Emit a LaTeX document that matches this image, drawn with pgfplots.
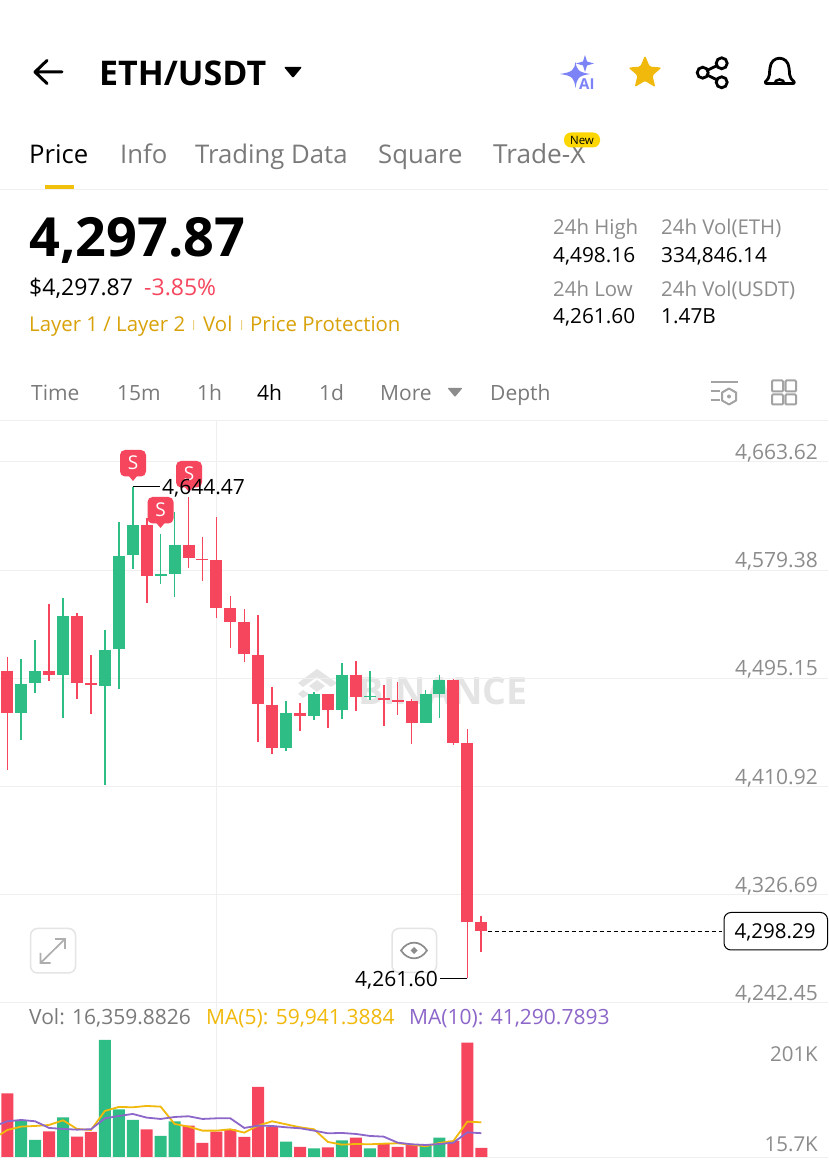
\documentclass[border=0pt]{standalone}
\usepackage{fontspec}
\setmainfont{Open Sans}
\usepackage{pgfplots}
\pgfplotsset{compat=1.18}
\usetikzlibrary{shapes.geometric}
\definecolor{upc}{HTML}{2EBD85}
\definecolor{dnc}{HTML}{F6465D}
\definecolor{ylw}{HTML}{F0B90B}
\definecolor{ppl}{HTML}{8D66C9}
\definecolor{gold}{HTML}{D9A20A}
\definecolor{gtx}{HTML}{7A7A7A}
\definecolor{ltx}{HTML}{8C8C8C}
\definecolor{grd}{HTML}{EFEFEF}
\definecolor{wm}{HTML}{E4E4E4}
\definecolor{spk}{HTML}{7C83F7}
\newcommand\T[6][base west]{\node[anchor=#1,inner sep=0pt,text=#5,font=\fontsize{#4}{#4}\selectfont] at (#2,#3) {#6};}
\pgfplotsset{screen/.style={
  scale only axis, width=828pt, xmin=-0.524, xmax=58.87,
  axis line style={draw=none}, tick style={draw=none}, clip=true,
  xtick={15}, xticklabels={}, xmajorgrids, ymajorgrids,
  grid style={line width=1pt,color=grd}, enlargelimits=false}}
\begin{document}
\begin{tikzpicture}[x=1pt,y=1pt]
\useasboundingbox (0,0) rectangle (828,1162);
\fill[white] (0,0) rectangle (828,1162);
% watermark
\begin{scope}[shift={(0pt,1162pt)},y=-1pt]
\fill[wm] (317,669) -- (337,683) -- (331,687) -- (317,677) -- (303,687) -- (298,683) -- cycle;
\fill[wm] (317,680) -- (325,686) -- (317,692) -- (309,686) -- cycle;
\fill[wm] (303,690) -- (309,694) -- (303,698) -- (298,694) -- cycle;
\node[anchor=base west,inner sep=0pt,text=wm,font=\fontsize{37.5}{37.5}\selectfont\bfseries] at (358,705) {BINANCE};
\end{scope}
% candles
\begin{axis}[screen, at={(0pt,159pt)}, anchor=south west, height=582pt,
  ymin=4242.45, ymax=4695.51,
  ytick={4242.45,4326.69,4410.92,4495.15,4579.38,4663.62},
  yticklabels={4{,}242.45,4{,}326.69,4{,}410.92,4{,}495.15,4{,}579.38,4{,}663.62},
  yticklabel pos=right,
  yticklabel style={anchor=south east,inner sep=0pt,xshift=-10pt,yshift=-0.5pt,text=ltx,font=\fontsize{21}{21}\selectfont},
  unbounded coords=jump]
% red wicks
\addplot[dnc,line width=1.6pt] coordinates {
(0,4512.05)(0,4423.83)(0,nan)
(3,4553.05)(3,4493.37)(3,nan)
(5,4545.79)(5,4478.84)(5,nan)
(6,4513.09)(6,4467.42)(6,nan)
(10,4619.74)(10,4554.09)(10,nan)
(13,4636.09)(13,4581.33)(13,nan)
(14,4605.47)(14,4570.70)(14,nan)
(15,4620.52)(15,4542.41)(15,nan)
(16,4559.28)(16,4518.54)(16,nan)
(17,4548.90)(17,4508.16)(17,nan)
(18,4544.23)(18,4445.89)(18,nan)
(19,4488.70)(19,4436.03)(19,nan)
(21,4475.73)(21,4454.45)(21,nan)
(23,4482.99)(23,4456.53)(23,nan)
(25,4508.42)(25,4470.02)(25,nan)
(27,4489.74)(27,4458.08)(27,nan)
(28,4492.34)(28,4466.91)(28,nan)
(29,4479.36)(29,4444.33)(29,nan)
(32,4494.41)(32,4443.03)(32,nan)
(33,4455.49)(33,4261.60)(33,nan)
(34,4310.18)(34,4282.42)
};
% red bodies
\addplot[dnc,line width=12pt] coordinates {
(0,4501.16)(0,4468.46)(0,nan)
(3,4501.16)(3,4497.78)(3,nan)
(5,4543.97)(5,4491.81)(5,nan)
(6,4491.30)(6,4489.74)(6,nan)
(10,4614.29)(10,4574.85)(10,nan)
(13,4599.24)(13,4588.60)(13,nan)
(14,4588.08)(14,4587.04)(14,nan)
(15,4587.30)(15,4550.20)(15,nan)
(16,4549.94)(16,4539.30)(16,nan)
(17,4539.04)(17,4513.87)(17,nan)
(18,4513.61)(18,4475.21)(18,nan)
(19,4474.69)(19,4440.70)(19,nan)
(21,4468.46)(21,4465.61)(21,nan)
(23,4482.99)(23,4470.28)(23,nan)
(25,4498.04)(25,4480.40)(25,nan)
(27,4480.14)(27,4478.58)(27,nan)
(28,4478.32)(28,4476.77)(28,nan)
(29,4477.80)(29,4460.68)(29,nan)
(32,4494.15)(32,4445.11)(32,nan)
(33,4444.85)(33,4305.77)(33,nan)
(34,4305.51)(34,4298.50)
};
% green wicks
\addplot[upc,line width=1.6pt] coordinates {
(1,4509.98)(1,4447.18)(1,nan)
(2,4525.03)(2,4484.03)(2,nan)
(4,4557.46)(4,4464.05)(4,nan)
(7,4532.81)(7,4412.15)(7,nan)
(8,4616.62)(8,4487.14)(8,nan)
(9,4644.47)(9,4580.56)(9,nan)
(11,4607.54)(11,4568.62)(11,nan)
(12,4624.93)(12,4558.76)(12,nan)
(20,4477.80)(20,4438.62)(20,nan)
(22,4484.81)(22,4463.01)(22,nan)
(24,4506.87)(24,4463.53)(24,nan)
(26,4501.16)(26,4478.32)(26,nan)
(30,4486.11)(30,4460.68)(30,nan)
(31,4498.04)(31,4464.57)
};
% green bodies
\addplot[upc,line width=12pt] coordinates {
(1,4490.78)(1,4468.46)(1,nan)
(2,4501.16)(2,4491.30)(2,nan)
(4,4543.97)(4,4497.78)(4,nan)
(7,4517.50)(7,4489.48)(7,nan)
(8,4590.42)(8,4517.76)(8,nan)
(9,4614.29)(9,4590.94)(9,nan)
(11,4576.15)(11,4575.11)(11,nan)
(12,4599.24)(12,4576.40)(12,nan)
(20,4468.46)(20,4440.70)(20,nan)
(22,4482.99)(22,4465.61)(22,nan)
(24,4498.04)(24,4470.28)(24,nan)
(26,4481.44)(26,4480.40)(26,nan)
(30,4482.73)(30,4460.68)(30,nan)
(31,4494.15)(31,4482.99)
};
% high / low leader lines and last-price line
\addplot[black,line width=1pt] coordinates {(9,4644.47)(10.95,4644.47)};
\addplot[black,line width=1pt] coordinates {(33,4261.60)(31.04,4261.60)};
\addplot[black,line width=1pt,dash pattern=on 4pt off 3pt] coordinates {(34.45,4298.29)(51.3,4298.29)};
\end{axis}
% volume
\begin{axis}[screen, at={(0pt,4.7pt)}, anchor=south west, height=154.3pt,
  ymin=0, ymax=264.4, ytick=\empty]
\addplot[ybar,bar width=12pt,bar shift=0pt,fill=dnc,draw=none] coordinates {
(0,109.7)(3,44.6)(5,35.4)(6,43.4)(10,48)(13,54.3)(14,24.6)(15,44)(16,48)(17,34.8)(18,120.5)(19,52.6)
(21,17.7)(23,17.1)(25,33.7)(27,22.8)(28,17.7)(29,22.3)(32,28)(33,196.5)(34,16.36)};
\addplot[ybar,bar width=12pt,bar shift=0pt,fill=upc,draw=none] coordinates {
(1,62.8)(2,29.7)(4,68.5)(7,201)(8,82.3)(9,64)(11,36.6)(12,61.7)(20,26.8)(22,15.4)(24,29.1)(26,15.4)(30,21.1)(31,33.7)};
\addplot[ylw,line width=1.8pt] coordinates {
(-0.52,38.8)(0,46.8)(1,52.6)(2,53.7)(3,55.4)(4,63.4)(5,48.6)(6,46.8)(7,79.4)(8,86.3)(9,85.7)(10,88)(11,86.8)
(12,57.1)(13,52.6)(14,45.7)(15,45.7)(16,48)(17,42.3)(18,54.4)(19,61.7)(20,56.5)(21,51.4)(22,48)(23,26.3)
(24,21.7)(25,22.8)(26,22.3)(27,23.4)(28,24)(29,21.7)(30,18.8)(31,24.6)(32,28)(33,61.1)(34,59.94)};
\addplot[ppl,line width=1.8pt] coordinates {
(-0.52,57.1)(0,61.7)(1,64)(2,61.7)(3,50.3)(4,48.6)(5,47.4)(6,48)(7,66.8)(8,70.8)(9,74.3)(10,68)(11,65.7)
(12,69.1)(13,70.3)(14,65.7)(15,66.8)(16,66.8)(17,50.3)(18,54.3)(19,53.7)(20,51.4)(21,49.7)(22,45.7)(23,41.1)
(24,41.7)(25,40)(26,36.6)(27,35.4)(28,25.1)(29,22.3)(30,21.1)(31,22.8)(32,25.1)(33,42.8)(34,41.29)};
\end{axis}
% overlay, in image pixels from the top
\begin{scope}[shift={(0pt,1162pt)},y=-1pt]
\draw[grd,line width=1pt] (0,189.5)--(828,189.5) (0,421)--(828,421) (0,1157.3)--(828,1157.3);
% header
\draw[black,line width=3pt,line cap=round,line join=round] (62,72)--(35,72) (47,60.5)--(35,72)--(47,83.5);
\node[anchor=base west,inner sep=0pt,font=\fontsize{34}{34}\selectfont\bfseries] at (99,86) {ETH/USDT};
\fill[black,rounded corners=1pt] (284,67)--(302,67)--(293,78)--cycle;
% AI sparkle
\fill[spk] (585,55)--(587,61.5)--(594,63.5)--(587,65.5)--(585,72)--(583,65.5)--(576,63.5)--(583,61.5)--cycle;
\fill[spk] (575.5,62) .. controls (577,70) and (578,72) .. (590,74) .. controls (578,76) and (577,78) .. (575.5,88) .. controls (574,78) and (573,76) .. (560,74) .. controls (573,72) and (574,70) .. (575.5,62) -- cycle;
\T{579}{90}{15}{spk}{\bfseries AI}
% star
\node[star,star points=5,star point ratio=2.2,fill=ylw,inner sep=0pt,minimum size=35pt,rounded corners=1.5pt] at (645,73) {};
% share
\draw[black,line width=2.8pt] (721.7,63.3) circle (5.5) (702.7,72.7) circle (5.5) (721.7,82.3) circle (5.5);
\draw[black,line width=2.8pt] (707.6,70.2)--(716.8,65.7) (707.6,75.2)--(716.8,79.8);
% bell
\draw[black,line width=2.8pt,line join=round] (765.5,81.5) .. controls (771,77) and (769,72) .. (770,68) .. controls (771,55) and (788,55) .. (789,68) .. controls (790,72) and (788,77) .. (794,81.5) .. controls (795,83) and (794,83.5) .. (793,83.5) -- (766.5,83.5) .. controls (765.5,83.5) and (765,83) .. (765.5,81.5) -- cycle;
\draw[black,line width=2.5pt] (774.5,84) arc[start angle=180,end angle=0,radius=5,y radius=-4.5];
% tabs
\T{29}{164}{25.7}{black}{Price}
\T{120}{164}{25.7}{gtx}{Info}
\T{195}{164}{25.7}{gtx}{Trading Data}
\T{378}{164}{25.7}{gtx}{Square}
\T{493}{164}{26.2}{gtx}{Trade-X}
\fill[ylw!90!yellow] (45,185) rectangle (74,189.5);
\fill[yellow!75!orange,rounded corners=7pt] (564,132.5) rectangle (600,147.5);
\T[base]{582}{144.5}{11.5}{black}{New}
% price
\node[anchor=base west,inner sep=0pt,font=\fontsize{54}{54}\selectfont\bfseries] at (29,257) {4,297.87};
\T{29}{296}{23}{black}{\$4,297.87}
\T{144}{296}{23}{dnc}{-3.85\%}
\T{29}{332}{20.4}{gold}{Layer 1 / Layer 2}
\T{203}{332}{20.4}{gold}{Vol}
\T{250}{332}{20.4}{gold}{Price Protection}
\fill[gold!50] (193,320) rectangle (194,330) (241,320) rectangle (242,330);
\T{553}{235}{20.4}{ltx}{24h High}
\T{553}{263}{20.8}{black}{4,498.16}
\T{661}{235}{20.4}{ltx}{24h Vol(ETH)}
\T{661}{263}{20.8}{black}{334,846.14}
\T{553}{297}{20.4}{ltx}{24h Low}
\T{553}{324}{20.8}{black}{4,261.60}
\T{661}{297}{20.4}{ltx}{24h Vol(USDT)}
\T{661}{324}{20.8}{black}{1.47B}
% time row
\T{31}{401}{21}{gtx}{Time}
\T{117}{401}{21}{gtx}{15m}
\T{197}{401}{21}{gtx}{1h}
\T{257}{401}{21}{black}{4h}
\T{319}{401}{21}{gtx}{1d}
\T{380}{401}{21}{gtx}{More}
\fill[ltx,rounded corners=0.8pt] (447.5,388)--(462.5,388)--(455,397)--cycle;
\T{490}{401}{21}{gtx}{Depth}
% tool icons
\draw[ltx!80,line width=2pt] (710.5,381.7)--(737.5,381.7) (710.5,391)--(720,391) (710.5,400)--(720,400);
\draw[ltx!80,line width=2pt,line join=round] (729,388.5)--(736,392.5)--(736,400.5)--(729,404.5)--(722,400.5)--(722,392.5)--cycle;
\fill[ltx!80] (729,396.5) circle (2);
\draw[ltx!80,line width=2pt,rounded corners=1pt] (772,380.5) rectangle (783,391.5) (785.5,380.5) rectangle (796,391.5) (772,394.5) rectangle (783,404.5) (785.5,394.5) rectangle (796,404.5);
% S flags
\foreach \px/\py in {133/450,160.5/497,189/461}{
  \fill[dnc,rounded corners=5pt] (\px-13,\py) rectangle (\px+13,\py+26.5);
  \fill[dnc] (\px-5,\py+25)--(\px+5,\py+25)--(\px,\py+31)--cycle;
  \node[text=white,inner sep=0pt,font=\fontsize{19}{19}\selectfont] at (\px,\py+13) {S};
}
\T{162}{495}{21}{black}{4,644.47}
% buttons
\draw[grd!90!gray,line width=1.5pt,fill=white,fill opacity=0.8,rounded corners=7pt] (30.5,928.5) rectangle (75.5,973);
\draw[grd!90!gray,line width=1.5pt,fill=white,fill opacity=0.8,rounded corners=7pt] (392,928.5) rectangle (436.5,972.5);
\draw[ltx!70,line width=1.7pt] (40.5,963)--(65,939) (40.5,953)--(40.5,963)--(50.5,963) (55,939)--(65,939)--(65,949);
\draw[ltx,line width=1.7pt] (401,950.5) .. controls (408,940) and (420,940) .. (427,950.5) .. controls (420,961) and (408,961) .. (401,950.5) -- cycle;
\fill[ltx] (414,947)--(417.5,950.5)--(414,954)--(410.5,950.5)--cycle;
\T{355}{987}{21}{black}{4,261.60}
% last price tag
\draw[black,line width=1pt,fill=white,rounded corners=7pt] (724,912.5) rectangle (827.5,950);
\T{734.5}{939}{20.5}{black}{4,298.29}
% volume legend
\T{29}{1025}{21}{gtx}{Vol: 16,359.8826}
\T{206}{1025}{21}{ylw}{MA(5): 59,941.3884}
\T{409}{1025}{21}{ppl}{MA(10): 41,290.7893}
\T[base east]{818}{1062}{20.5}{ltx}{201K}
\T[base east]{818}{1152}{20.5}{ltx}{15.7K}
\end{scope}
\end{tikzpicture}
\end{document}
